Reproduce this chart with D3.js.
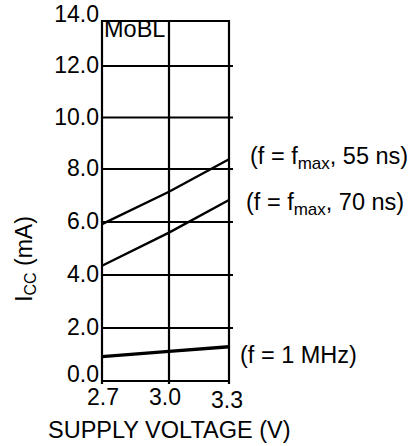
<!DOCTYPE html>
<html>
<head>
<meta charset="utf-8">
<script src="https://cdn.jsdelivr.net/npm/d3@7"></script>
<style>
  body { margin: 0; background: #fff; }
  text { font-family: "Liberation Sans", Arial, sans-serif; fill: #000; }
</style>
</head>
<body>
<div id="chart"></div>
<script>
const voltages = [2.7, 3.0, 3.3];
const icc55ns = [5.92, 7.14, 8.38];
const icc70ns = [4.35, 5.6, 6.83];
const icc1MHz = [0.92, 1.12, 1.29];
const yTicks = [0, 2, 4, 6, 8, 10, 12, 14];
const xTickLabels = ["2.7", "3.0", "3.3"];

var width = 415;
var height = 446;

// the original grid is not evenly spaced, so the scales are piecewise
var x = d3.scaleLinear().domain([2.7, 3.0, 3.3]).range([102, 169, 229]);
var xLab = d3.scaleLinear().domain([2.7, 3.3]).range([103, 227]);
var y = d3.scaleLinear().domain([0, 8, 12, 14]).range([381, 169, 66, 21]);

var svg = d3.select('#chart')
  .append('svg')
  .attr('width', width)
  .attr('height', height);

// horizontal grid lines
svg.selectAll('.hgrid')
  .data(yTicks)
  .enter()
  .append('line')
  .attr('x1', x(2.7))
  .attr('x2', function(d) { return (d == 0 || d == 14) ? x(3.3) : x(3.3) + 4; })
  .attr('y1', function(d) { return y(d); })
  .attr('y2', function(d) { return y(d); })
  .attr('stroke', '#000')
  .attr('stroke-width', 2.2);

// vertical grid lines
svg.selectAll('.vgrid')
  .data(voltages)
  .enter()
  .append('line')
  .attr('x1', function(d) { return x(d); })
  .attr('x2', function(d) { return x(d); })
  .attr('y1', y(14) - 1)
  .attr('y2', y(0) + 3)
  .attr('stroke', '#000')
  .attr('stroke-width', 2.2);

// y tick labels
svg.selectAll('.ylab')
  .data(yTicks)
  .enter()
  .append('text')
  .attr('x', 99)
  .attr('y', function(d) { return y(d) + ((d == 0 || d == 14) ? 1 : 7); })
  .attr('text-anchor', 'end')
  .style('font-size', '23px')
  .text(function(d) { return d.toFixed(1); });

// x tick labels
svg.selectAll('.xlab')
  .data(voltages)
  .enter()
  .append('text')
  .attr('x', function(d) { return xLab(d); })
  .attr('y', function(d, i) { return i == 2 ? 408 : 405; })
  .attr('text-anchor', 'middle')
  .style('font-size', '23px')
  .text(function(d, i) { return xTickLabels[i]; });

// curves
var line = d3.line()
  .x(function(d) { return x(d[0]); })
  .y(function(d) { return y(d[1]); });

var series = [
  { vals: icc55ns, w: 2.4 },
  { vals: icc70ns, w: 2.4 },
  { vals: icc1MHz, w: 3.4 }
];

svg.selectAll('.curve')
  .data(series)
  .enter()
  .append('path')
  .attr('d', function(s) { return line(d3.zip(voltages, s.vals)); })
  .attr('fill', 'none')
  .attr('stroke', '#000')
  .attr('stroke-width', function(s) { return s.w; });

// curve labels
function curveLabel(xPos, yPos, sub, rest) {
  var t = svg.append('text')
    .attr('x', xPos)
    .attr('y', yPos)
    .style('font-size', '23.5px');
  if (sub) {
    t.append('tspan').text('(f = f');
    t.append('tspan').attr('dy', 5).style('font-size', '17px').text('max');
    t.append('tspan').attr('dy', -5).text(rest);
  } else {
    t.text(rest);
  }
}
curveLabel(250, 164, true, ', 55 ns)');
curveLabel(246, 210, true, ', 70 ns)');
curveLabel(240, 363, false, '(f = 1 MHz)');

// MoBL
svg.append('text')
  .attr('x', 104)
  .attr('y', 37)
  .style('font-size', '23.5px')
  .text('MoBL');

// axis titles
svg.append('text')
  .attr('x', 48)
  .attr('y', 438)
  .style('font-size', '23.5px')
  .text('SUPPLY VOLTAGE (V)');

var yt = svg.append('text')
  .attr('transform', 'translate(32,259) rotate(-90)')
  .attr('text-anchor', 'middle')
  .style('font-size', '23px');
yt.append('tspan').text('I');
yt.append('tspan').attr('dy', 4).style('font-size', '16px').text('CC');
yt.append('tspan').attr('dy', -4).text(' (mA)');
</script>
</body>
</html>
